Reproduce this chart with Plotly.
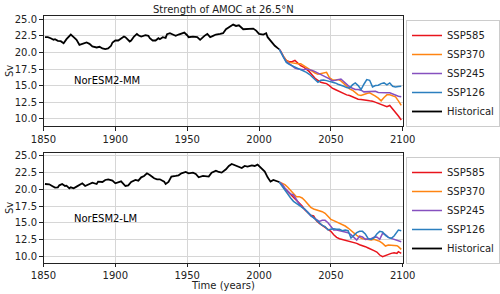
import plotly.graph_objects as go

# ---------------- data ----------------
mm_hist_years = [1851, 1853, 1855, 1857, 1858, 1860, 1862, 1864, 1866, 1868, 1869, 1871, 1873, 1875, 1877,
                 1880, 1882, 1884, 1887, 1889, 1891, 1893, 1895, 1897, 1898, 1900, 1902, 1904, 1906, 1907,
                 1909, 1910, 1911, 1913, 1915, 1916, 1918, 1921, 1923, 1924, 1926, 1928, 1930, 1931, 1933,
                 1935, 1936, 1938, 1940, 1942, 1944, 1946, 1948, 1950, 1951, 1954, 1957, 1959, 1960, 1962,
                 1964, 1966, 1968, 1970, 1973, 1975, 1977, 1980, 1982, 1984, 1986, 1989, 1992, 1996, 1998,
                 2000, 2003, 2005, 2006, 2009, 2011, 2013, 2014]
mm_hist_vals = [22.3, 22.3, 22.15, 21.9, 22.0, 21.75, 21.7, 21.4, 22.0, 22.5, 22.7, 22.3, 21.9, 21.15, 21.3,
                21.5, 21.3, 20.9, 20.75, 20.85, 20.6, 20.5, 20.6, 21.0, 21.5, 21.8, 21.8, 22.1, 22.4, 22.3,
                21.8, 21.65, 21.8, 22.4, 22.8, 22.6, 22.4, 22.6, 22.5, 22.15, 21.8, 21.8, 22.15, 22.0, 22.3,
                22.2, 22.75, 22.9, 22.7, 22.5, 22.7, 22.9, 23.0, 22.6, 22.3, 22.4, 22.3, 21.9, 22.15, 22.5,
                22.8, 22.3, 22.5, 22.7, 22.8, 22.9, 23.5, 24.0, 24.2, 24.0, 24.1, 23.5, 23.5, 23.6, 23.3,
                22.8, 22.7, 22.9, 22.3, 21.5, 21.0, 20.65, 20.5]

scen_years = [2014, 2015, 2017, 2019, 2021, 2023, 2025, 2027, 2029, 2031, 2033, 2035, 2037, 2039, 2041,
              2043, 2045, 2047, 2049, 2051, 2053, 2055, 2057, 2059, 2061, 2063, 2065, 2067, 2069, 2071,
              2073, 2075, 2077, 2079, 2081, 2083, 2085, 2087, 2089, 2091, 2093, 2095, 2097, 2099]
mm_ssp585 = [20.5, 20.2, 19.4, 18.8, 18.6, 18.6, 18.8, 18.4, 18.0, 17.8, 17.5, 17.1, 16.6, 16.1, 15.8,
             15.5, 15.4, 15.3, 15.0, 14.6, 14.4, 14.2, 13.9, 13.7, 13.6, 13.5, 13.3, 13.1, 12.95, 12.9,
             12.8, 12.75, 12.7, 12.65, 12.5, 12.3, 12.2, 12.0, 11.8, 12.0, 11.5, 11.0, 10.4, 9.8]
mm_ssp370 = [20.5, 20.2, 19.4, 18.8, 18.5, 18.4, 18.4, 18.3, 18.3, 18.0, 17.7, 17.5, 17.2, 16.9, 16.7,
             16.8, 17.0, 17.0, 16.2, 15.9, 15.8, 15.9, 15.7, 15.3, 14.8, 14.5, 14.3, 14.0, 13.6, 13.5,
             13.7, 13.8, 13.9, 13.7, 13.4, 13.1, 12.7, 13.2, 13.6, 13.6, 13.4, 13.3, 12.7, 12.0]
mm_ssp245 = [20.5, 20.2, 19.3, 18.6, 18.3, 18.0, 17.65, 17.5, 17.4, 17.4, 17.5, 17.45, 17.3, 17.1, 16.9,
             16.6, 16.4, 16.3, 16.0, 15.7, 15.75, 15.9, 16.0, 15.6, 15.2, 14.8, 14.6, 14.4, 14.4, 14.3,
             14.05, 14.1, 14.15, 14.2, 14.15, 13.95, 13.9, 13.95, 13.9, 13.9, 13.7, 13.5, 13.4, 13.3]
mm_ssp126 = [20.5, 20.1, 19.4, 18.5, 18.2, 18.0, 17.75, 17.6, 17.45, 17.25, 17.0, 16.7, 16.3, 15.8, 15.5,
             15.8, 15.85, 15.75, 15.65, 15.55, 15.4, 15.2, 15.1, 14.9, 14.7, 14.6, 15.1, 15.4, 15.0, 14.4,
             15.2, 15.9, 15.8, 14.8, 15.0, 15.05, 15.3, 15.4, 15.1, 15.4, 14.9, 14.8, 14.85, 14.9]

lm_hist_years = [1851, 1854, 1856, 1858, 1860, 1861, 1863, 1865, 1866, 1868, 1869, 1871, 1873, 1875, 1877,
                 1879, 1880, 1882, 1884, 1887, 1888, 1891, 1893, 1895, 1898, 1900, 1902, 1904, 1907, 1909,
                 1911, 1914, 1916, 1918, 1920, 1922, 1924, 1927, 1929, 1931, 1934, 1935, 1937, 1939, 1942,
                 1944, 1946, 1949, 1951, 1954, 1956, 1958, 1961, 1963, 1965, 1967, 1970, 1972, 1974, 1977,
                 1979, 1981, 1984, 1986, 1988, 1990, 1992, 1995, 1997, 1999, 2002, 2004, 2006, 2008, 2010,
                 2012, 2014]
lm_hist_vals = [20.8, 20.75, 20.5, 20.25, 20.3, 20.6, 20.8, 20.5, 20.55, 20.15, 20.3, 20.15, 20.4, 20.65, 20.9,
                20.5, 20.6, 20.9, 21.0, 20.8, 21.15, 21.1, 21.4, 21.5, 21.3, 20.9, 21.1, 21.2, 20.5, 20.6,
                21.1, 21.4, 21.3, 21.8, 22.0, 22.4, 22.15, 21.65, 21.5, 21.5, 21.15, 20.8, 21.1, 21.9, 22.0,
                22.1, 22.4, 22.6, 22.4, 22.5, 22.3, 21.8, 22.0, 21.9, 21.9, 22.5, 22.8, 22.6, 22.5, 23.0,
                23.5, 23.8, 23.5, 23.4, 23.2, 23.5, 23.4, 23.6, 23.5, 23.7, 23.15, 22.65, 21.8, 21.15, 21.4,
                21.3, 21.1]

lm_years = [2014, 2016, 2018, 2020, 2022, 2024, 2026, 2028, 2030, 2032, 2034, 2036, 2038, 2040, 2042,
            2044, 2046, 2048, 2050, 2052, 2054, 2056, 2058, 2060, 2062, 2064, 2066, 2068, 2070, 2072,
            2074, 2076, 2078, 2080, 2082, 2084, 2086, 2088, 2090, 2092, 2094, 2096, 2097, 2099]
lm_ssp585 = [21.1, 20.7, 20.1, 19.65, 19.2, 18.9, 18.4, 17.9, 17.5, 16.9, 16.5, 16.1, 16.0, 15.3, 14.9,
             14.6, 14.3, 14.0, 13.7, 13.2, 12.8, 12.6, 12.5, 12.4, 12.3, 12.15, 12.0, 11.9, 11.7, 11.6,
             11.4, 11.2, 10.95, 10.8, 10.6, 10.15, 9.9, 10.1, 10.2, 10.4, 10.5, 10.4, 10.65, 10.4]
lm_ssp370 = [21.1, 20.9, 20.7, 20.3, 19.8, 19.3, 18.9, 18.9, 18.7, 18.3, 17.8, 17.3, 17.05, 16.95, 16.8,
             16.65, 16.4, 15.9, 15.5, 15.3, 15.1, 14.95, 14.8, 14.5, 14.2, 13.8, 13.4, 13.1, 12.8, 12.6,
             12.55, 12.45, 12.4, 12.5, 12.4, 12.2, 11.9, 11.5, 11.65, 11.65, 11.6, 11.55, 11.4, 11.0]
lm_ssp245 = [21.1, 20.8, 20.2, 19.7, 19.3, 19.15, 18.4, 17.8, 17.3, 17.0, 16.6, 16.0, 15.75, 15.4, 15.2,
             15.35, 15.35, 15.0, 14.4, 13.9, 13.9, 13.8, 13.7, 13.65, 13.5, 13.2, 12.8, 12.4, 13.0, 12.85,
             12.5, 12.5, 12.6, 12.8, 12.85, 12.5, 13.4, 13.2, 12.8, 12.65, 12.5, 12.3, 12.25, 12.15]
lm_ssp126 = [21.1, 20.5, 19.8, 19.15, 18.7, 18.2, 17.9, 17.6, 17.3, 17.0, 16.5, 16.1, 15.8, 15.3, 14.9,
             14.6, 14.4, 13.9, 14.0, 14.1, 14.0, 14.0, 13.8, 13.9, 13.8, 12.7, 13.1, 13.5, 13.7, 13.7,
             13.3, 12.6, 12.5, 12.7, 13.3, 13.7, 13.6, 13.1, 12.8, 12.65, 13.0, 13.5, 13.9, 13.8]

scenario_names = ["SSP585", "SSP370", "SSP245", "SSP126"]
x_ticks = [1850, 1900, 1950, 2000, 2050, 2100]
y_ticks = [10.0, 12.5, 15.0, 17.5, 20.0, 22.5, 25.0]

# ---------------- styling ----------------
colors = ["#e8141c", "#ff8412", "#8650bf", "#2b7fbf"]
FONT = "DejaVu Sans"
W, H = 500, 294

fig = go.Figure()

panels = [
    ("x", "y", "legend", scen_years, [mm_ssp585, mm_ssp370, mm_ssp245, mm_ssp126], mm_hist_years, mm_hist_vals),
    ("x2", "y2", "legend2", lm_years, [lm_ssp585, lm_ssp370, lm_ssp245, lm_ssp126], lm_hist_years, lm_hist_vals),
]
for xa, ya, lg, yrs, series, hy, hv in panels:
    for name, col, vals in zip(scenario_names, colors, series):
        fig.add_trace(go.Scatter(x=yrs, y=vals, mode="lines", name=name, xaxis=xa, yaxis=ya,
                                 legend=lg, line=dict(color=col, width=1.5)))
    fig.add_trace(go.Scatter(x=hy, y=hv, mode="lines", name="Historical", xaxis=xa, yaxis=ya,
                             legend=lg, line=dict(color="black", width=1.8)))

xdom = [43.5 / W, 402.7 / W]
top_dom = [(H - 126) / H, (H - 16) / H]
bot_dom = [(H - 262.7) / H, (H - 153.3) / H]

axis_common = dict(showline=True, linecolor="#222", linewidth=1, mirror=True,
                   showgrid=True, gridcolor="#d6d6d6", gridwidth=1,
                   ticks="outside", ticklen=3.5, tickcolor="#222", tickwidth=1,
                   tickfont=dict(family=FONT, size=10, color="#222"), zeroline=False,
                   automargin=False)

legend_common = dict(xanchor="left", yanchor="top", bgcolor="white", bordercolor="#cccccc",
                     borderwidth=1, font=dict(family=FONT, size=10, color="#222"),
                     tracegroupgap=0, itemwidth=30)

fig.update_layout(
    width=W, height=H, margin=dict(l=0, r=0, t=0, b=0, autoexpand=False),
    paper_bgcolor="white", plot_bgcolor="white",
    font=dict(family=FONT, size=10, color="#222"),
    xaxis=dict(domain=xdom, anchor="y", range=[1850, 2100], tickvals=x_ticks, **axis_common),
    yaxis=dict(domain=top_dom, anchor="x", range=[8.9, 25.5], tickvals=y_ticks, tickformat=".1f",
               **axis_common),
    xaxis2=dict(domain=xdom, anchor="y2", range=[1850, 2100], tickvals=x_ticks, **axis_common),
    yaxis2=dict(domain=bot_dom, anchor="x2", range=[9.0, 25.4], tickvals=y_ticks, tickformat=".1f",
                **axis_common),
    legend=dict(x=406 / W, y=(H - 20) / H, **legend_common),
    legend2=dict(x=406 / W, y=(H - 157) / H, **legend_common),
    showlegend=True,
    annotations=[
        dict(text="Strength of AMOC at 26.5°N", x=(xdom[0] + xdom[1]) / 2, y=(H - 9) / H,
             xref="paper", yref="paper", showarrow=False, font=dict(family=FONT, size=10, color="#222"),
             xanchor="center", yanchor="middle"),
        dict(text="Time (years)", x=(xdom[0] + xdom[1]) / 2, y=(H - 285) / H,
             xref="paper", yref="paper", showarrow=False, font=dict(family=FONT, size=10, color="#222"),
             xanchor="center", yanchor="middle"),
        dict(text="Sv", x=9 / W, y=(H - 71) / H, xref="paper", yref="paper", showarrow=False,
             textangle=-90, xanchor="center", yanchor="middle",
             font=dict(family=FONT, size=10, color="#222")),
        dict(text="Sv", x=9 / W, y=(H - 208) / H, xref="paper", yref="paper", showarrow=False,
             textangle=-90, xanchor="center", yanchor="middle",
             font=dict(family=FONT, size=10, color="#222")),
        dict(text="NorESM2-MM", x=1869.8, y=15.7, xref="x", yref="y", showarrow=False,
             xanchor="left", yanchor="middle", font=dict(family=FONT, size=10, color="black")),
        dict(text="NorESM2-LM", x=1869.8, y=15.7, xref="x2", yref="y2", showarrow=False,
             xanchor="left", yanchor="middle", font=dict(family=FONT, size=10, color="black")),
    ],
)

fig.write_html("out.html", config={"displayModeBar": False},
               post_script="document.body.style.margin='0';document.body.style.padding='0';")
